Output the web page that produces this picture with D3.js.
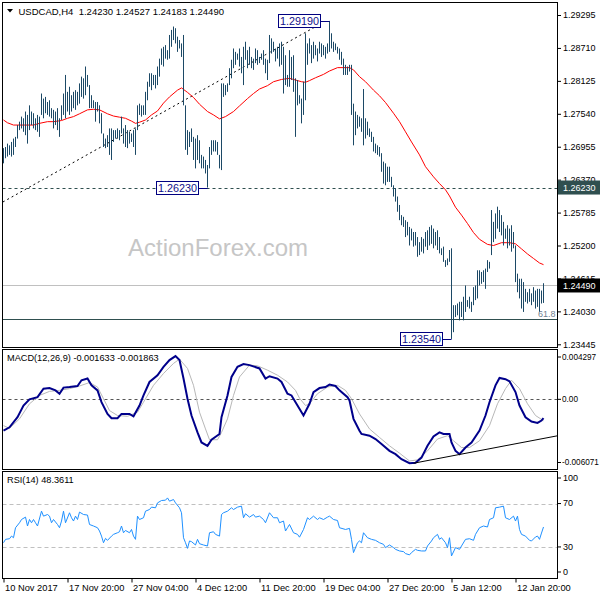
<!DOCTYPE html>
<html><head><meta charset="utf-8">
<script src="https://cdn.jsdelivr.net/npm/d3@7"></script>
<style>
body{margin:0;background:#fff}
svg{display:block}
text{font-family:"Liberation Sans",Arial,sans-serif}
</style>
</head><body>
<svg id="c" width="600" height="600"></svg>
<script>
// ---------------- DATA ----------------
const headerText = "USDCAD,H4\u00a0\u00a01.24230 1.24527 1.24183 1.24490";
const macdHeader = "MACD(12,26,9) -0.001633 -0.001863";
const rsiHeader = "RSI(14) 48.3611";
const watermark = "ActionForex.com";

const timeLabels = ["10 Nov 2017","17 Nov 20:00","27 Nov 04:00","4 Dec 12:00","11 Dec 20:00","19 Dec 04:00","27 Dec 20:00","5 Jan 12:00","12 Jan 20:00"];
const timeIdx = [0,32,64,96,128,160,192,224,256];
const priceTicks = [1.29295,1.28710,1.28125,1.27540,1.26955,1.26370,1.25785,1.25200,1.24615,1.24030,1.23445];
const macdTicks = [0.004297,0,-0.006071];
const rsiTicks = [100,70,30,0];
const rsiLevels = [70,30];

const highs = [
1.2693,1.2695,1.2701,1.2698,1.2704,1.2710,1.2713,1.2734,1.2740,1.2749,
1.2746,1.2758,1.2752,1.2769,1.2758,1.2755,1.2746,1.2752,1.2749,1.2790,
1.2781,1.2784,1.2775,1.2778,1.2764,1.2761,1.2758,1.2764,1.2746,1.2769,
1.2790,1.2823,1.2793,1.2802,1.2787,1.2793,1.2796,1.2793,1.2808,1.2820,
1.2817,1.2838,1.2823,1.2805,1.2787,1.2778,1.2775,1.2775,1.2769,1.2755,
1.2719,1.2710,1.2716,1.2728,1.2728,1.2725,1.2725,1.2728,1.2725,1.2749,
1.2728,1.2734,1.2725,1.2722,1.2719,1.2725,1.2728,1.2769,1.2772,1.2769,
1.2769,1.2793,1.2811,1.2826,1.2826,1.2823,1.2823,1.2838,1.2852,1.2870,
1.2873,1.2876,1.2867,1.2894,1.2903,1.2909,1.2906,1.2891,1.2885,1.2879,
1.2894,1.2769,1.2725,1.2722,1.2728,1.2713,1.2710,1.2716,1.2707,1.2681,
1.2678,1.2672,1.2663,1.2695,1.2707,1.2707,1.2707,1.2704,1.2681,1.2808,
1.2808,1.2805,1.2808,1.2835,1.2850,1.2870,1.2864,1.2861,1.2870,1.2855,
1.2873,1.2882,1.2867,1.2873,1.2855,1.2852,1.2870,1.2867,1.2855,1.2861,
1.2867,1.2852,1.2850,1.2894,1.2888,1.2882,1.2870,1.2873,1.2879,1.2882,
1.2873,1.2858,1.2823,1.2867,1.2855,1.2858,1.2817,1.2814,1.2787,1.2781,
1.2811,1.2897,1.2879,1.2888,1.2876,1.2882,1.2876,1.2870,1.2882,1.2879,
1.2876,1.2873,1.2879,1.2919,1.2897,1.2882,1.2879,1.2873,1.2870,1.2864,
1.2852,1.2841,1.2838,1.2841,1.2841,1.2772,1.2758,1.2752,1.2749,1.2746,
1.2798,1.2746,1.2740,1.2728,1.2722,1.2713,1.2701,1.2698,1.2695,1.2684,
1.2669,1.2666,1.2660,1.2660,1.2642,1.2627,1.2622,1.2607,1.2592,1.2574,
1.2571,1.2565,1.2562,1.2553,1.2550,1.2544,1.2544,1.2535,1.2526,1.2535,
1.2532,1.2544,1.2547,1.2553,1.2556,1.2550,1.2544,1.2547,1.2535,1.2515,
1.2518,1.2494,1.2497,1.2512,1.2515,1.2414,1.2414,1.2417,1.2420,1.2420,
1.2429,1.2449,1.2423,1.2429,1.2420,1.2446,1.2449,1.2476,1.2476,1.2473,
1.2476,1.2479,1.2494,1.2491,1.2583,1.2562,1.2577,1.2589,1.2583,1.2574,
1.2562,1.2550,1.2556,1.2550,1.2556,1.2544,1.2520,1.2470,1.2461,1.2461,
1.2455,1.2443,1.2437,1.2443,1.2435,1.2446,1.2440,1.2443,1.2443,1.2440,
1.2453];

const lows = [
1.2666,1.2675,1.2678,1.2681,1.2678,1.2681,1.2695,1.2710,1.2725,1.2728,
1.2722,1.2716,1.2701,1.2725,1.2734,1.2728,1.2725,1.2722,1.2713,1.2752,
1.2746,1.2755,1.2752,1.2749,1.2746,1.2728,1.2734,1.2725,1.2713,1.2743,
1.2752,1.2746,1.2758,1.2752,1.2758,1.2764,1.2761,1.2769,1.2772,1.2784,
1.2781,1.2787,1.2802,1.2764,1.2764,1.2764,1.2740,1.2758,1.2737,1.2719,
1.2695,1.2693,1.2695,1.2681,1.2672,1.2704,1.2710,1.2710,1.2707,1.2719,
1.2701,1.2695,1.2693,1.2701,1.2704,1.2695,1.2681,1.2725,1.2752,1.2749,
1.2752,1.2752,1.2778,1.2802,1.2796,1.2805,1.2799,1.2805,1.2820,1.2841,
1.2838,1.2852,1.2850,1.2852,1.2873,1.2885,1.2879,1.2864,1.2870,1.2855,
1.2769,1.2690,1.2681,1.2695,1.2704,1.2672,1.2657,1.2672,1.2666,1.2657,
1.2657,1.2648,1.2623,1.2657,1.2681,1.2687,1.2687,1.2681,1.2657,1.2654,
1.2784,1.2787,1.2793,1.2805,1.2817,1.2835,1.2841,1.2850,1.2838,1.2826,
1.2805,1.2850,1.2835,1.2841,1.2835,1.2832,1.2844,1.2841,1.2844,1.2850,
1.2841,1.2826,1.2814,1.2844,1.2861,1.2864,1.2847,1.2852,1.2838,1.2841,
1.2790,1.2805,1.2802,1.2802,1.2814,1.2793,1.2713,1.2769,1.2772,1.2737,
1.2752,1.2778,1.2841,1.2861,1.2844,1.2852,1.2858,1.2847,1.2861,1.2855,
1.2858,1.2852,1.2861,1.2864,1.2870,1.2864,1.2867,1.2861,1.2850,1.2841,
1.2823,1.2823,1.2823,1.2829,1.2752,1.2698,1.2716,1.2728,1.2731,1.2722,
1.2698,1.2710,1.2716,1.2713,1.2704,1.2687,1.2684,1.2681,1.2678,1.2651,
1.2630,1.2627,1.2633,1.2633,1.2624,1.2607,1.2598,1.2580,1.2565,1.2556,
1.2553,1.2535,1.2538,1.2520,1.2529,1.2518,1.2520,1.2500,1.2503,1.2509,
1.2506,1.2518,1.2512,1.2520,1.2523,1.2515,1.2520,1.2512,1.2506,1.2503,
1.2491,1.2482,1.2485,1.2491,1.2354,1.2366,1.2393,1.2396,1.2387,1.2393,
1.2387,1.2402,1.2411,1.2408,1.2402,1.2414,1.2423,1.2426,1.2449,1.2452,
1.2455,1.2443,1.2473,1.2479,1.2503,1.2526,1.2532,1.2550,1.2544,1.2538,
1.2520,1.2532,1.2515,1.2520,1.2509,1.2515,1.2455,1.2437,1.2426,1.2408,
1.2402,1.2420,1.2417,1.2420,1.2414,1.2420,1.2408,1.2411,1.2402,1.2417,
1.2418];

// moving average (red) sampled [bar index, price]
const maPoints = [[0,1.2743],[2,1.2738],[5,1.2734],[9,1.2734],[12,1.2734],[15,1.2734],[18,1.2737],[22,1.2740],[25,1.2740],[29,1.2742],
[32,1.2746],[35,1.2749],[38,1.2754],[42,1.2761],[45,1.2762],[48,1.2761],[52,1.2754],[55,1.2750],[58,1.2748],[61,1.2746],
[64,1.2741],[66,1.2737],[68,1.2739],[71,1.2743],[74,1.2752],[77,1.2759],[80,1.2773],[83,1.2784],[87,1.2796],[89,1.2800],
[92,1.2792],[95,1.2783],[98,1.2771],[102,1.2758],[105,1.2752],[108,1.2745],[111,1.2749],[115,1.2758],[118,1.2768],[122,1.2781],
[125,1.2790],[128,1.2798],[132,1.2804],[135,1.2811],[139,1.2815],[143,1.2817],[146,1.2814],[149,1.2811],[151,1.2810],[153,1.2813],
[156,1.2818],[160,1.2824],[163,1.2830],[167,1.2836],[170,1.2836],[173,1.2836],[175,1.2832],[178,1.2820],[181,1.2811],[185,1.2796],
[188,1.2786],[191,1.2774],[195,1.2755],[198,1.2740],[201,1.2722],[204,1.2704],[208,1.2681],[211,1.2660],[215,1.2642],[218,1.2630],
[221,1.2619],[223,1.2608],[226,1.2588],[229,1.2574],[232,1.2559],[235,1.2543],[238,1.2531],[242,1.2522],[245,1.2520],[249,1.2525],
[253,1.2525],[256,1.2523],[259,1.2514],[262,1.2505],[265,1.2497],[268,1.2489],[270,1.2486]];

const macdMain = [[0,-0.00273],[3,-0.00244],[7,-0.00156],[10,-0.00054],[13,0.0000],[17,0.00019],[20,0.00093],[23,0.00098],[26,0.00078],[28,0.00049],
[30,0.00102],[33,0.00107],[37,0.00116],[39,0.00166],[42,0.00181],[44,0.00122],[47,0.00078],[49,-0.00025],[52,-0.00127],[54,-0.00165],
[57,-0.00165],[59,-0.00127],[63,-0.00127],[65,-0.00148],[68,-0.00054],[70,0.00034],[73,0.00151],[77,0.0021],[80,0.00283],[83,0.00342],
[86,0.00377],[88,0.00342],[90,0.00181],[92,0.00005],[94,-0.00141],[97,-0.00288],[99,-0.00376],[102,-0.00405],[104,-0.00352],[108,-0.00302],
[109,-0.00156],[112,0.00034],[114,0.00195],[117,0.00283],[120,0.00307],[123,0.00298],[128,0.00269],[131,0.00181],[133,0.00201],[137,0.00181],
[139,0.00151],[142,0.00049],[144,0.00034],[147,-0.00054],[150,-0.00141],[153,-0.00039],[155,0.00063],[158,0.00098],[161,0.00107],[163,0.00128],
[166,0.00116],[168,0.00078],[172,0.00019],[173,-0.0001],[175,-0.0017],[178,-0.00273],[179,-0.00302],[183,-0.00317],[186,-0.00346],[189,-0.0039],
[193,-0.00449],[196,-0.00478],[199,-0.00522],[203,-0.00557],[206,-0.00552],[209,-0.00508],[212,-0.00405],[215,-0.00323],[218,-0.00288],[220,-0.00302],
[223,-0.00302],[224,-0.00376],[226,-0.00449],[228,-0.00478],[231,-0.0042],[234,-0.00376],[238,-0.00273],[241,-0.00141],[243,-0.00025],[246,0.00122],
[248,0.00186],[251,0.00175],[253,0.00157],[256,0.00063],[258,-0.00054],[261,-0.00156],[264,-0.00194],[267,-0.00206],[269,-0.00185],[270,-0.00163]];

const macdSignal = [[0,-0.00229],[3,-0.00253],[8,-0.0017],[13,-0.00039],[18,0.00034],[23,0.00069],[28,0.00078],[33,0.00093],[38,0.00116],[43,0.00146],
[47,0.00107],[50,0.00005],[53,-0.00098],[57,-0.00141],[62,-0.00148],[67,-0.00112],[70,-0.00025],[75,0.00122],[80,0.00225],[85,0.00313],
[88,0.0035],[92,0.00269],[95,0.00122],[98,-0.00112],[101,-0.00258],[103,-0.00352],[107,-0.00352],[109,-0.00288],[112,-0.0017],[115,0.00034],
[118,0.00195],[123,0.00298],[127,0.00292],[132,0.00254],[137,0.0021],[142,0.00151],[146,0.00078],[148,0.0001],[151,-0.00054],[153,-0.00039],
[157,0.00049],[162,0.00107],[167,0.00122],[171,0.00078],[174,0.00005],[178,-0.00127],[183,-0.00258],[188,-0.00332],[193,-0.00405],[198,-0.00469],
[203,-0.00537],[207,-0.00528],[212,-0.00449],[217,-0.00346],[222,-0.00317],[225,-0.00361],[229,-0.0042],[233,-0.0042],[238,-0.00361],[243,-0.00229],
[247,-0.00039],[251,0.00093],[254,0.00166],[258,0.00093],[262,-0.00039],[266,-0.00141],[270,-0.00186]];

const macdTrend = [[205,-0.00557],[277.2,-0.00317]];

const rsiPoints = [[0,33.9],[1,37],[3,37.6],[4,40],[5,38.5],[6,47.7],[8,52.3],[9,55.3],[11,57.5],[12,49.3],
[13,55.3],[14,52.3],[15,55.3],[16,52.3],[17,49.3],[19,63],[20,58.4],[22,59.9],[23,58.4],[24,52.3],
[25,55.3],[27,50.7],[28,47.7],[29,53.9],[30,63],[31,52.3],[33,61.5],[34,56.9],[35,53.9],[36,58.4],
[37,55.3],[38,62.1],[40,59.9],[42,59.4],[43,50.7],[45,49.3],[47,47.7],[48,44.7],[49,40],[50,33.9],
[51,37.9],[52,36.1],[54,40],[55,41.6],[57,43.1],[58,44],[59,49.3],[60,43.1],[61,45.2],[63,43.1],
[64,46.1],[65,40],[66,37],[67,58.4],[68,55.3],[70,56.9],[71,63],[73,64.5],[74,66.7],[76,66.1],
[77,70.6],[79,72.8],[81,73.1],[82,75.2],[83,72.2],[85,73.7],[86,70.6],[88,66.1],[89,61.5],[90,38.5],
[91,33.9],[92,28.7],[93,35.5],[94,34.9],[96,31.8],[97,37],[98,33],[100,31.8],[102,30.9],[103,43.1],
[105,44],[106,41.6],[108,40],[109,59.9],[110,61.5],[112,63],[114,66.1],[115,64.5],[117,66.7],[119,67.6],
[120,56.9],[121,60.6],[123,57.5],[125,59.9],[126,57.5],[128,58.4],[130,55.3],[131,52.3],[133,61.5],[135,56.9],
[137,56.9],[138,52.3],[140,53.9],[141,44.7],[142,47.7],[143,50.7],[145,43.1],[147,41.6],[148,39],[150,46.1],
[152,56.9],[153,55.3],[155,58.4],[157,55.3],[158,56.9],[160,55.3],[162,57.5],[163,58.4],[165,55.3],[167,54.4],
[168,47.7],[171,46.1],[173,47.1],[174,37],[175,24.8],[177,33.9],[178,35.5],[179,33.9],[180,43.1],[182,38.5],
[184,37],[186,36.1],[188,33.9],[190,32.4],[191,29.4],[193,31.8],[195,29.4],[196,27.8],[198,26.3],[200,25.7],
[201,23.9],[203,22.7],[204,24.8],[206,27.8],[207,26.9],[209,26.3],[211,26.3],[212,30.9],[214,35.5],[215,38.5],
[217,41.6],[218,37],[219,38.5],[221,33.9],[222,29.4],[223,38.5],[224,21.7],[226,29.4],[228,27.8],[229,30.9],
[231,37],[233,37.6],[235,36.1],[236,41.6],[238,47.7],[240,49.3],[242,48.4],[243,55.3],[245,56.9],[246,66.1],
[248,66.7],[250,67.6],[251,56.9],[253,55.3],[255,58.4],[256,53.9],[257,58.4],[258,46.1],[259,41.6],[261,40],
[263,36.1],[264,35.5],[266,39.2],[267,40],[268,37],[269,42.8],[270,48.4]];

const extremes = [{i:163,p:1.29190,label:"1.29190"},{i:102,p:1.26230,label:"1.26230"},{i:224,p:1.23540,label:"1.23540"}];
const supportLevel = 1.26230;
const lastPrice = 1.24490;
const fibLevel = 1.2389;
const fibLabel = "61.8";
const priceTrend = [[-0.3,1.25973],[158.4,1.29135]];

// ---------------- LAYOUT ----------------
const svg = d3.select("#c");
const L = 2.5, R = 557.5;
const mainP = {top:2.5, bot:347.5};
const macdP = {top:349.5, bot:469.5};
const rsiP = {top:471.5, bot:578.5};

const x = d3.scaleLinear().domain([0,270]).range([3.5,543.5]);
const yP = d3.scaleLinear().domain([1.23445,1.29295]).range([344.3,15]);
const yM = d3.scaleLinear().domain([-0.006071,0.004297]).range([469,350]);
const yR = d3.scaleLinear().domain([0,100]).range([579.5,471]);

const defs = svg.append("defs");
function clip(id,p){defs.append("clipPath").attr("id",id).append("rect").attr("x",L+0.5).attr("y",p.top+0.5).attr("width",R-L-1).attr("height",p.bot-p.top-1);}
clip("cm",mainP); clip("cd",macdP); clip("cr",rsiP);

// frames
[mainP,macdP,rsiP].forEach(p=>{
  svg.append("rect").attr("x",L).attr("y",p.top).attr("width",R-L).attr("height",p.bot-p.top)
    .attr("fill","#fff").attr("stroke","#000").attr("stroke-width",1);
});

// ---------- MAIN ----------
const gm = svg.append("g").attr("clip-path","url(#cm)");

gm.append("text").attr("x",128).attr("y",256).attr("font-size",24).attr("fill","#c6c6c6").text(watermark);

// level lines
gm.append("line").attr("x1",L).attr("x2",R).attr("y1",Math.round(yP(lastPrice))+0.5).attr("y2",Math.round(yP(lastPrice))+0.5)
  .attr("stroke","#c0c0c0");
gm.append("line").attr("x1",L).attr("x2",R).attr("y1",Math.round(yP(fibLevel))+0.5).attr("y2",Math.round(yP(fibLevel))+0.5)
  .attr("stroke","#2f4f4f");
gm.append("line").attr("x1",L).attr("x2",R).attr("y1",Math.round(yP(supportLevel))+0.5).attr("y2",Math.round(yP(supportLevel))+0.5)
  .attr("stroke","#2f4f4f").attr("stroke-dasharray","3,3");

// trendline
gm.append("line").attr("x1",x(priceTrend[0][0])).attr("y1",yP(priceTrend[0][1]))
  .attr("x2",x(priceTrend[1][0])).attr("y2",yP(priceTrend[1][1]))
  .attr("stroke","#000").attr("stroke-dasharray","2,3");

// MA
gm.append("path").datum(maPoints).attr("fill","none").attr("stroke","#ff0000").attr("stroke-width",1)
  .attr("d",d3.line().x(d=>x(d[0])).y(d=>yP(d[1])));

// bars
gm.selectAll("line.bar").data(highs).join("line").attr("class","bar")
  .attr("x1",(d,i)=>x(i)).attr("x2",(d,i)=>x(i))
  .attr("y1",d=>yP(d)).attr("y2",(d,i)=>yP(lows[i]))
  .attr("stroke","#1c4966").attr("stroke-width",1);

// extreme labels
extremes.forEach(e=>{
  const bx = Math.round(x(e.i)) - 10 - 42;
  const cy = yP(e.p);
  const ry = Math.round(cy - 6.5);
  gm.append("line").attr("x1",bx+42).attr("x2",x(e.i)).attr("y1",Math.round(cy)+0.5).attr("y2",Math.round(cy)+0.5).attr("stroke","#000080");
  gm.append("rect").attr("x",bx+0.5).attr("y",ry+0.5).attr("width",42).attr("height",13)
    .attr("fill","#fff").attr("stroke","#000080");
  gm.append("text").attr("x",bx+2).attr("y",cy+4.2).attr("font-size",10.8).attr("fill","#10108a").text(e.label);
});

gm.append("text").attr("x",538).attr("y",317).attr("font-size",9).attr("fill","#708090").text(fibLabel);

// header
svg.append("path").attr("d","M7,9L13,9L10,12.5Z").attr("fill","#000");
svg.append("text").attr("x",18.5).attr("y",14.5).attr("font-size",9.5).attr("fill","#000").style("white-space","pre").text(headerText);

// price axis
const ax = svg.append("g").attr("transform","translate(558,0)")
  .call(d3.axisRight(yP).tickValues(priceTicks).tickSize(3).tickSizeOuter(0).tickPadding(2).tickFormat(d=>d.toFixed(5)));
ax.select(".domain").remove();
ax.selectAll("text").attr("font-size",9).attr("font-family","Liberation Sans, Arial, sans-serif").attr("fill","#000");

// right-axis tags
[{p:supportLevel,fill:"#2f4f4f"},{p:lastPrice,fill:"#000"}].forEach(t=>{
  const cy = yP(t.p);
  svg.append("rect").attr("x",558).attr("y",cy-7).attr("width",42).attr("height",14).attr("fill",t.fill);
  svg.append("text").attr("x",563).attr("y",cy).attr("dy","0.35em").attr("font-size",9).attr("fill","#fff").text(t.p.toFixed(5));
});

// ---------- MACD ----------
const gd = svg.append("g").attr("clip-path","url(#cd)");
gd.append("line").attr("x1",L).attr("x2",R).attr("y1",Math.round(yM(0))+0.5).attr("y2",Math.round(yM(0))+0.5)
  .attr("stroke","#555").attr("stroke-dasharray","3,3");
gd.append("path").datum(macdSignal).attr("fill","none").attr("stroke","#b8b8b8").attr("stroke-width",1)
  .attr("d",d3.line().x(d=>x(d[0])).y(d=>yM(d[1])));
gd.append("path").datum(macdMain).attr("fill","none").attr("stroke","#00008b").attr("stroke-width",2)
  .attr("d",d3.line().x(d=>x(d[0])).y(d=>yM(d[1])));
gd.append("line").attr("x1",x(macdTrend[0][0])).attr("y1",yM(macdTrend[0][1]))
  .attr("x2",x(macdTrend[1][0])).attr("y2",yM(macdTrend[1][1])).attr("stroke","#000").attr("stroke-width",1);
svg.append("text").attr("x",7).attr("y",361).attr("font-size",9.2).attr("fill","#000").text(macdHeader);

const amd = svg.append("g").attr("transform","translate(558,0)")
  .call(d3.axisRight(yM).tickValues(macdTicks).tickSize(3).tickSizeOuter(0).tickPadding(1)
    .tickFormat(d=>d===0?"0.00":d.toFixed(6)));
amd.select(".domain").remove();
amd.selectAll(".tick").attr("transform",d=>`translate(0,${Math.max(macdP.top+7.5,Math.min(macdP.bot-7,yM(d)))})`);
amd.selectAll("text").attr("font-size",8.2).attr("font-family","Liberation Sans, Arial, sans-serif").attr("fill","#000");

// ---------- RSI ----------
const gr = svg.append("g").attr("clip-path","url(#cr)");
rsiLevels.forEach(v=>{
  gr.append("line").attr("x1",L).attr("x2",R).attr("y1",Math.round(yR(v))+0.5).attr("y2",Math.round(yR(v))+0.5)
    .attr("stroke","#c0c0c0").attr("stroke-dasharray","4,3");
});
gr.append("path").datum(rsiPoints).attr("fill","none").attr("stroke","#1e90ff").attr("stroke-width",1)
  .attr("d",d3.line().x(d=>x(d[0])).y(d=>yR(d[1])));
svg.append("text").attr("x",7).attr("y",483).attr("font-size",9.2).attr("fill","#000").text(rsiHeader);

const ard = svg.append("g").attr("transform","translate(558,0)")
  .call(d3.axisRight(yR).tickValues(rsiTicks).tickSize(3).tickSizeOuter(0).tickPadding(2).tickFormat(d=>String(d)));
ard.select(".domain").remove();
ard.selectAll(".tick").attr("transform",d=>`translate(0,${Math.max(rsiP.top+6.5,Math.min(rsiP.bot-6.5,yR(d)))})`);
ard.selectAll("text").attr("font-size",9).attr("font-family","Liberation Sans, Arial, sans-serif").attr("fill","#000");

// ---------- TIME AXIS ----------
const at = svg.append("g").attr("transform",`translate(0,${rsiP.bot})`)
  .call(d3.axisBottom(x).tickValues(timeIdx).tickSize(4).tickSizeOuter(0).tickFormat((d,i)=>timeLabels[i]));
at.select(".domain").remove();
at.selectAll("text").attr("text-anchor","start").attr("x",1).attr("y",6).attr("dy","0.71em")
  .attr("font-size",9.3).attr("font-family","Liberation Sans, Arial, sans-serif").attr("fill","#000");
at.selectAll("line").attr("stroke","#000");
</script>
</body></html>
